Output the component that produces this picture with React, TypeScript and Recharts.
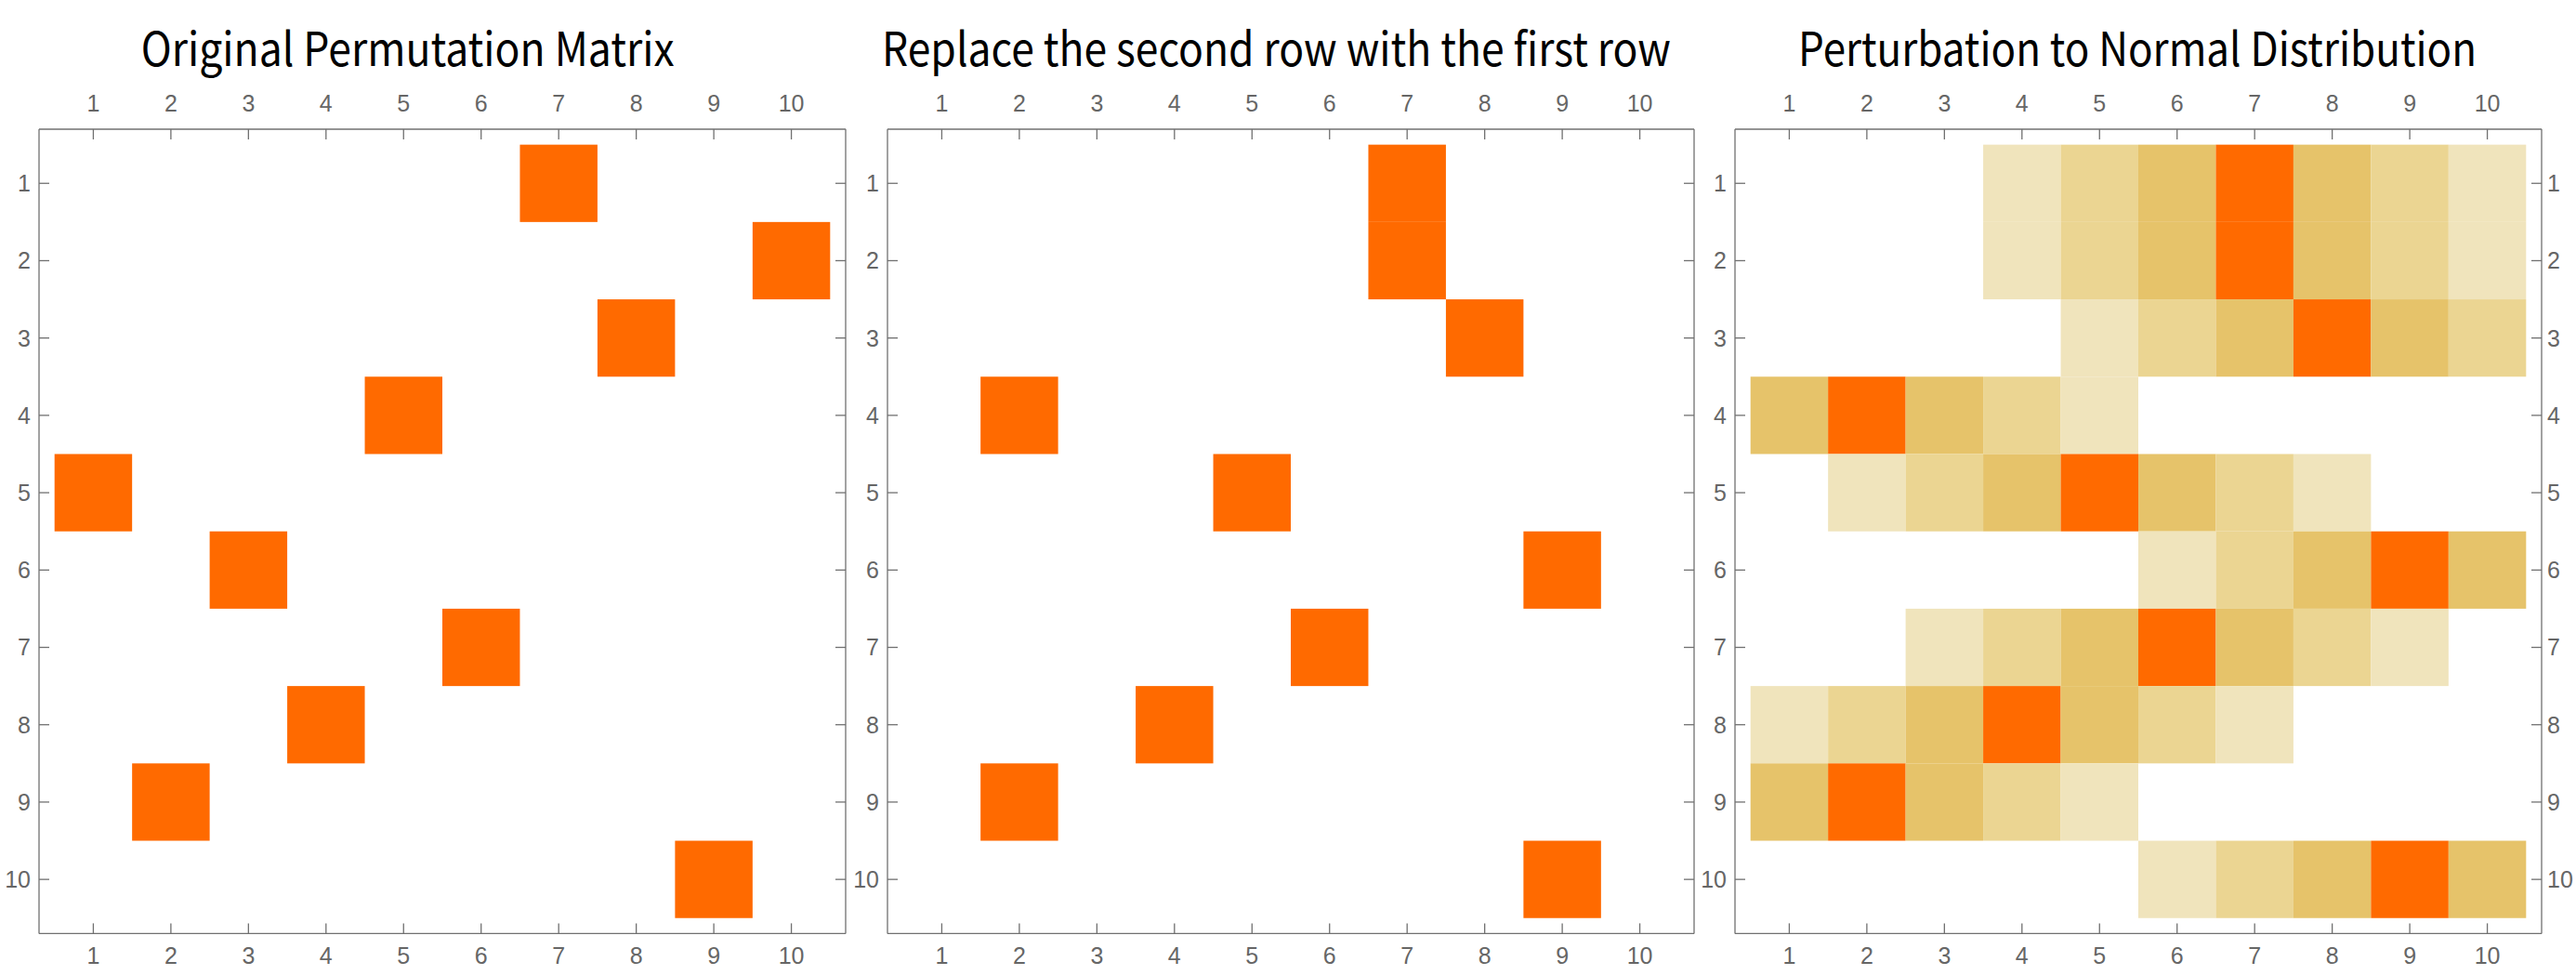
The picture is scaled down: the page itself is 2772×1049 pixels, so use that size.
import { ScatterChart, Scatter, XAxis, YAxis } from 'recharts'

const ROWS = [1, 2, 3, 4, 5, 6, 7, 8, 9, 10]
const COLS = [1, 2, 3, 4, 5, 6, 7, 8, 9, 10]

// column of the single 1 in each row
const ORIGINAL_COLS = [7, 10, 8, 5, 1, 3, 6, 4, 2, 9]
const REPLACED_COLS = [7, 7, 8, 2, 5, 9, 6, 4, 2, 9]

// peak 1, neighbours fall off like a gaussian
const PERTURBED = [
    [0, 0, 0, 0.01, 0.14, 0.61, 1, 0.61, 0.14, 0.01],
    [0, 0, 0, 0.01, 0.14, 0.61, 1, 0.61, 0.14, 0.01],
    [0, 0, 0, 0, 0.01, 0.14, 0.61, 1, 0.61, 0.14],
    [0.61, 1, 0.61, 0.14, 0.01, 0, 0, 0, 0, 0],
    [0, 0.01, 0.14, 0.61, 1, 0.61, 0.14, 0.01, 0, 0],
    [0, 0, 0, 0, 0, 0.01, 0.14, 0.61, 1, 0.61],
    [0, 0, 0.01, 0.14, 0.61, 1, 0.61, 0.14, 0.01, 0],
    [0.01, 0.14, 0.61, 1, 0.61, 0.14, 0.01, 0, 0, 0],
    [0.61, 1, 0.61, 0.14, 0.01, 0, 0, 0, 0, 0],
    [0, 0, 0, 0, 0, 0.01, 0.14, 0.61, 1, 0.61],
]

const TITLES = [
    'Original Permutation Matrix',
    'Replace the second row with the first row',
    'Perturbation to Normal Distribution',
]
const TITLE_X = [151.7, 949, 1935]
const TITLE_W = [574, 849, 730]

const FRAME_W = 868
const FRAME_H = 865.4
const FRAME_TOP = 139.3
const FRAME_LEFTS = [42.3, 954.7, 1866.7]
const PAD = 60
const DOMAIN: [number, number] = [0.3, 10.7]
const CELL_W = FRAME_W / (DOMAIN[1] - DOMAIN[0])
const CELL_H = FRAME_H / (DOMAIN[1] - DOMAIN[0])

const tickFont = {
    fill: '#666666',
    fontSize: 25,
    fontFamily: "'Liberation Sans', Arial, sans-serif",
}
const frameLine = { stroke: '#707070', strokeWidth: 1.3 }

const cellColor = (v: number) => {
    if (v >= 0.9) return '#ff6a00'
    if (v >= 0.5) return '#e6c36a'
    if (v >= 0.1) return '#ebd592'
    return '#f0e4bc'
}

type Cell = { x: number; y: number; v: number }

const fromCols = (cols: number[]): Cell[] => ROWS.map((r, i) => ({ x: cols[i], y: r, v: 1 }))
const fromGrid = (grid: number[][]): Cell[] =>
    grid.flatMap((row, i) => row.map((v, j) => ({ x: COLS[j], y: ROWS[i], v }))).filter((d) => d.v > 0)

const CellShape = (props: any) => {
    const { cx, cy, payload } = props
    return (
        <rect
            x={cx - CELL_W / 2}
            y={cy - CELL_H / 2}
            width={CELL_W}
            height={CELL_H}
            fill={cellColor(payload.v)}
        />
    )
}

// inner tick axes: keep the tick marks, drop the text
const NoLabel = () => <g />

const MatrixPanel = ({ cells, left, rightLabels }: { cells: Cell[]; left: number; rightLabels: boolean }) => {
    const common = { type: 'number' as const, domain: DOMAIN, allowDataOverflow: true, interval: 0 as const }
    return (
        <div style={{ position: 'absolute', left: left - PAD, top: FRAME_TOP - PAD }}>
            <ScatterChart
                width={FRAME_W + 2 * PAD}
                height={FRAME_H + 2 * PAD}
                margin={{ top: 0, right: 0, bottom: 0, left: 0 }}
            >
                <XAxis {...common} xAxisId="top" orientation="top" dataKey="x" ticks={COLS} height={PAD}
                    tickSize={0} tickMargin={19} tickLine={false} axisLine={frameLine} tick={tickFont} />
                <XAxis {...common} xAxisId="bottom" orientation="bottom" dataKey="x" ticks={COLS} height={PAD}
                    tickSize={0} tickMargin={15} tickLine={false} axisLine={frameLine} tick={tickFont} />
                <XAxis {...common} xAxisId="topIn" orientation="top" mirror dataKey="x" ticks={COLS}
                    tickSize={11} tickLine={frameLine} axisLine={false} tick={NoLabel} />
                <XAxis {...common} xAxisId="bottomIn" orientation="bottom" mirror dataKey="x" ticks={COLS}
                    tickSize={11} tickLine={frameLine} axisLine={false} tick={NoLabel} />
                <YAxis {...common} yAxisId="left" orientation="left" dataKey="y" reversed ticks={ROWS} width={PAD}
                    tickSize={0} tickMargin={9} tickLine={false} axisLine={frameLine} tick={tickFont} />
                <YAxis {...common} yAxisId="right" orientation="right" dataKey="y" reversed ticks={ROWS} width={PAD}
                    tickSize={0} tickMargin={6} tickLine={false} axisLine={frameLine}
                    tick={rightLabels ? tickFont : NoLabel} />
                <YAxis {...common} yAxisId="leftIn" orientation="left" mirror dataKey="y" reversed ticks={ROWS}
                    tickSize={11} tickLine={frameLine} axisLine={false} tick={NoLabel} />
                <YAxis {...common} yAxisId="rightIn" orientation="right" mirror dataKey="y" reversed ticks={ROWS}
                    tickSize={11} tickLine={frameLine} axisLine={false} tick={NoLabel} />
                <Scatter data={cells} xAxisId="bottom" yAxisId="left" shape={CellShape} isAnimationActive={false} />
            </ScatterChart>
        </div>
    )
}

const App = () => {
    const panels = [fromCols(ORIGINAL_COLS), fromCols(REPLACED_COLS), fromGrid(PERTURBED)]
    return (
        <div style={{ position: 'absolute', left: 0, top: 0, width: 2772, height: 1049, background: '#fff' }}>
            <svg width={2772} height={110} style={{ position: 'absolute', left: 0, top: 0 }}>
                {TITLES.map((t, i) => (
                    <text
                        key={t}
                        x={TITLE_X[i]}
                        y={70.7}
                        textLength={TITLE_W[i]}
                        lengthAdjust="spacingAndGlyphs"
                        fontSize={50}
                        fontFamily="'Noto Sans CJK SC', 'Noto Sans', sans-serif"
                        fill="#000"
                    >
                        {t}
                    </text>
                ))}
            </svg>
            {panels.map((cells, i) => (
                <MatrixPanel key={i} cells={cells} left={FRAME_LEFTS[i]} rightLabels={i === 2} />
            ))}
        </div>
    )
}

export default App
